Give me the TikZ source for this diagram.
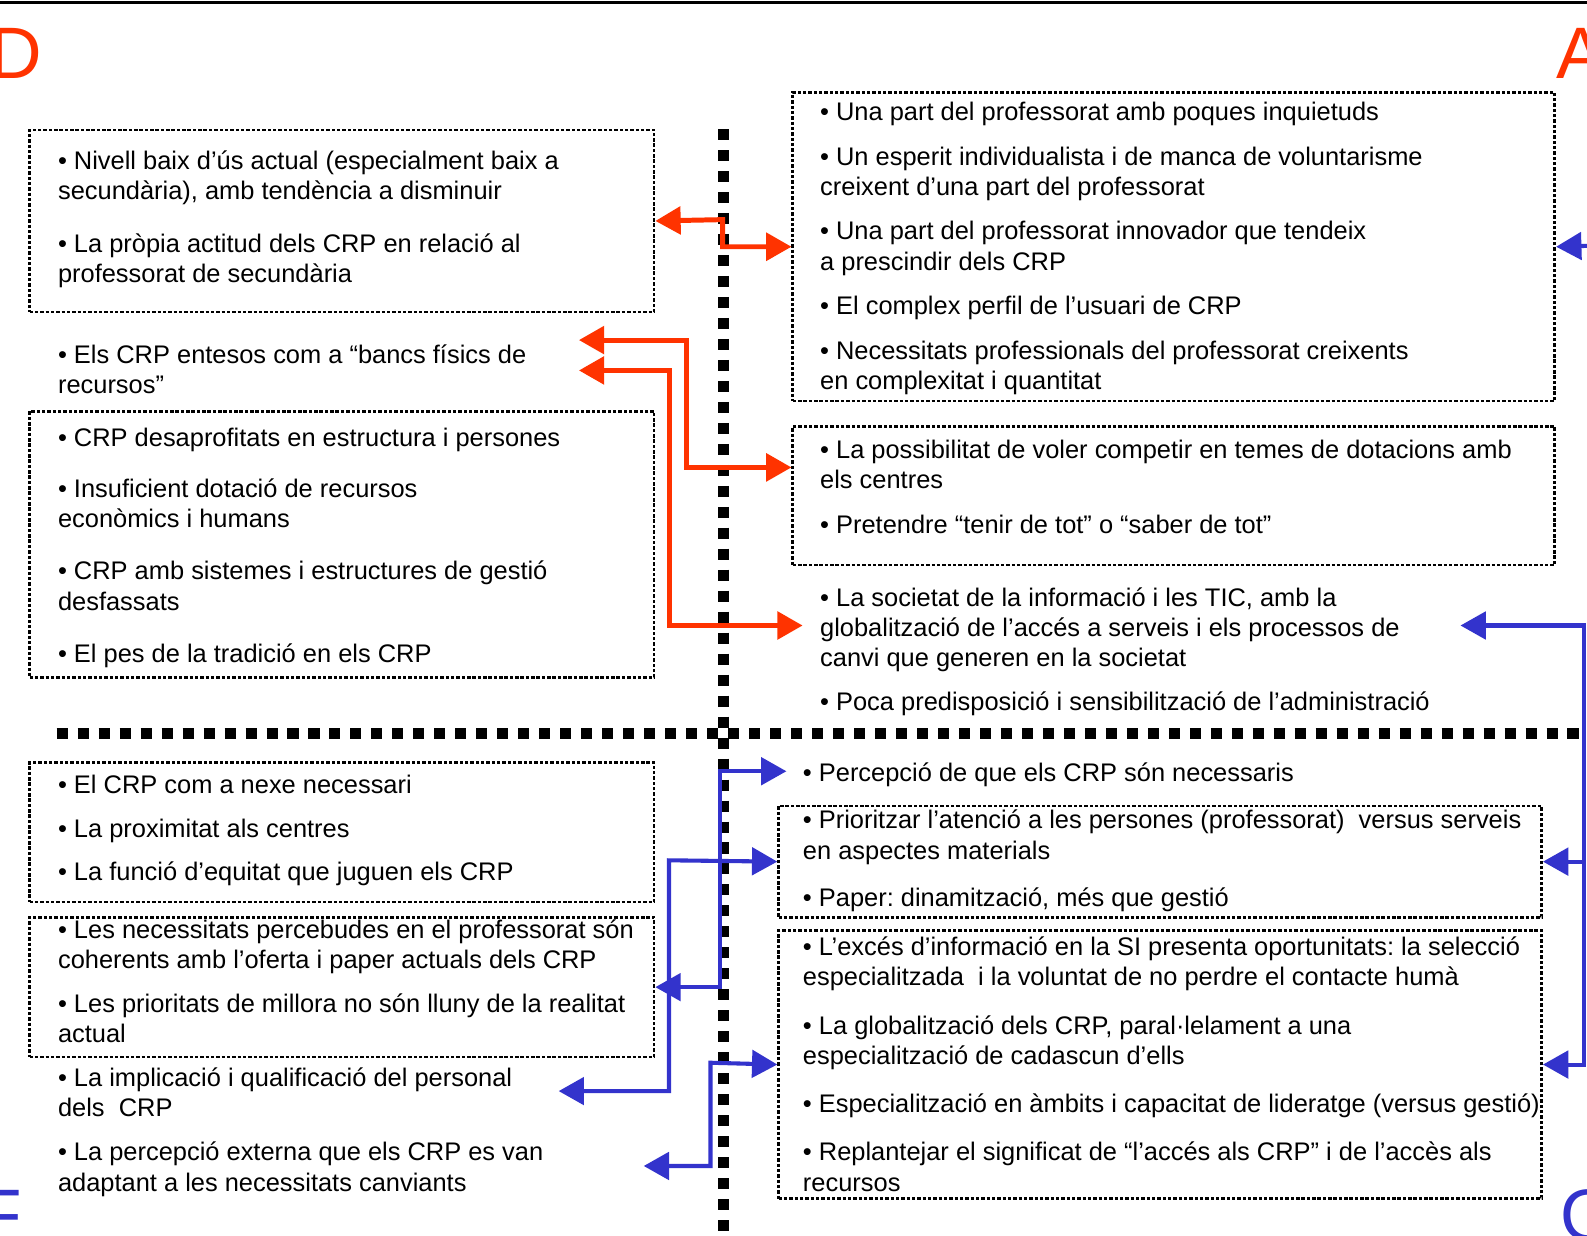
\documentclass[tikz,border=0pt]{standalone}
\usepackage{fontspec}
\setmainfont{Liberation Sans}
\usepackage{tikz}
\usetikzlibrary{arrows.meta, positioning}
\definecolor{dred}{HTML}{FF3300}
\definecolor{dblue}{HTML}{3333CC}
\frenchspacing

\begin{document}
\begin{tikzpicture}[x=0.02cm, y=-0.02cm,
  box/.style={draw, dash pattern=on 1.9pt off 1.1pt, line width=1.5pt,
              inner sep=0pt, anchor=north west},
  item/.style={font=\fontsize{14.3}{17.07}\selectfont, align=left,
               inner sep=0pt, anchor=base west},
  big/.style={font=\fontsize{41}{41}\selectfont, inner sep=0pt, anchor=base west},
  divider/.style={line width=6.2pt, dash pattern=on 6.2pt off 5.6pt},
  tip/.style={-{Triangle[length=0.5cm, width=0.54cm]}},
  redarr/.style={dred, line width=2.8pt,
                 {Triangle[length=0.5cm, width=0.54cm]}-{Triangle[length=0.5cm, width=0.54cm]}},
  bluearr/.style={dblue, line width=2.3pt,
                  {Triangle[length=0.5cm, width=0.54cm]}-{Triangle[length=0.5cm, width=0.54cm]}}]
  \useasboundingbox (0,0) rectangle (1568,1221);

  % Top rule and quadrant letters
  \draw[line width=1.7pt] (0,2.5) -- (1568,2.5);
  \node[big, dred] (dletter) at (-11,78) {D};
  \node[big, dred] (aletter) at (1537,78) {A};
  \node[big, dblue] (fletter) at (-23,1226) {F};
  \node[big, dblue] (oletter) at (1541,1226) {O};

  % Debilitats (text nodes sit on the baseline of their last line)
  \node[box, minimum width=12.34cm, minimum height=3.6cm] (deb1) at (28,127) {};
  \node[item] (deb1txt) at (57,279)
    {• Nivell baix d’ús actual (especialment baix a\\
     secundària), amb tendència a disminuir\\[0.44cm]%
     • La pròpia actitud dels CRP en relació al\\
     professorat de secundària};
  \node[item] (bancs) at (57,389)
    {• Els CRP entesos com a “bancs físics de\\ recursos”};
  \node[box, minimum width=12.34cm, minimum height=5.26cm] (deb2) at (28,405) {};
  \node[item] (deb2txt) at (57,655)
    {• CRP desaprofitats en estructura i persones\\[0.4cm]%
     • Insuficient dotació de recursos\\
     econòmics i humans\\[0.44cm]%
     • CRP amb sistemes i estructures de gestió\\
     desfassats\\[0.44cm]%
     • El pes de la tradició en els CRP};

  % Amenaces
  \node[box, minimum width=15.06cm, minimum height=6.1cm] (ame1) at (782,90) {};
  \node[item] (ame1txt) at (810,385)
    {• Una part del professorat amb poques inquietuds\\[0.28cm]%
     • Un esperit individualista i de manca de voluntarisme\\
     creixent d’una part del professorat\\[0.28cm]%
     • Una part del professorat innovador que tendeix\\
     a prescindir dels CRP\\[0.28cm]%
     • El complex perfil de l’usuari de CRP\\[0.28cm]%
     • Necessitats professionals del professorat creixents\\
     en complexitat i quantitat};
  \node[box, minimum width=15.06cm, minimum height=2.74cm] (ame2) at (782,420) {};
  \node[item] (ame2txt) at (810,527)
    {• La possibilitat de voler competir en temes de dotacions amb\\
     els centres\\[0.28cm]%
     • Pretendre “tenir de tot” o “saber de tot”};
  \node[item] (societat) at (810,659)
    {• La societat de la informació i les TIC, amb la\\
     globalització de l’accés a serveis i els processos de\\
     canvi que generen en la societat};
  \node[item] (poca) at (810,702)
    {• Poca predisposició i sensibilització de l’administració};

  % Fortaleses
  \node[box, minimum width=12.34cm, minimum height=2.76cm] (fort1) at (28,752) {};
  \node[item] (fort1txt) at (57,870)
    {• El CRP com a nexe necessari\\[0.26cm]%
     • La proximitat als centres\\[0.26cm]%
     • La funció d’equitat que juguen els CRP};
  \node[box, minimum width=12.34cm, minimum height=2.76cm] (fort2) at (28,905) {};
  \node[item] (fort2txt) at (57,1030)
    {• Les necessitats percebudes en el professorat són\\
     coherents amb l’oferta i paper actuals dels CRP\\[0.26cm]%
     • Les prioritats de millora no són lluny de la realitat\\
     actual};
  \node[item] (implicacio) at (57,1103)
    {• La implicació i qualificació del personal\\ dels~ CRP};
  \node[item] (externa) at (57,1177)
    {• La percepció externa que els CRP es van\\
     adaptant a les necessitats canviants};

  % Oportunitats
  \node[item] (percepcio) at (793,772)
    {• Percepció de que els CRP són necessaris};
  \node[box, minimum width=15.08cm, minimum height=2.2cm] (opo1) at (768,795) {};
  \node[item] (opo1txt) at (793,896)
    {• Prioritzar l’atenció a les persones (professorat)~ versus serveis\\
     en aspectes materials\\[0.34cm]%
     • Paper: dinamització, més que gestió};
  \node[box, minimum width=15.08cm, minimum height=5.3cm] (opo2) at (768,918) {};
  \node[item] (opo2txt) at (793,1177)
    {• L’excés d’informació en la SI presenta oportunitats: la selecció\\
     especialitzada~ i la voluntat de no perdre el contacte humà\\[0.36cm]%
     • La globalització dels CRP, paral·lelament a una\\
     especialització de cadascun d’ells\\[0.34cm]%
     • Especialització en àmbits i capacitat de lideratge (versus gestió)\\[0.36cm]%
     • Replantejar el significat de “l’accés als CRP” i de l’accès als\\
     recursos};

  % Dividers
  \draw[divider] (715,127.5) -- (715,1221);
  \draw[divider] (56,725) -- (1565,725);

  % Arrow ends
  \coordinate (bancsA) at (572,336);
  \coordinate (bancsB) at (572,366);
  \coordinate (societatL) at (793,618);
  \coordinate (societatR) at (1443,618);
  \coordinate (trunk) at (1565,618);
  \coordinate (offpage) at (1600,242);
  \coordinate (percepcioL) at (777,762);
  \coordinate (implicacioR) at (552,1078);
  \coordinate (externaR) at (636,1152);

  % Red links
  \draw[redarr] (deb1.east) -- (714,217) |- (ame1.west);
  \draw[redarr] (bancsA) -- (678,336) |- ([shift={(0,-28)}]ame2.west);
  \draw[redarr] (bancsB) -- (661,366) |- (societatL);

  % Blue links
  \draw[dblue, line width=2.3pt, tip] (offpage) -- (ame1.east);
  \draw[bluearr] (societatR) -- (trunk) |- (opo2.east);
  \draw[dblue, line width=2.3pt, tip] (opo1.east -| trunk) -- (opo1.east);
  \draw[bluearr] (percepcioL) -- (711,762) |- (fort2.east);
  \draw[bluearr] (opo1.west) -- (661,850) |- (implicacioR);
  \draw[bluearr] (opo2.west) -- (702,1050) |- (externaR);
\end{tikzpicture}
\end{document}
